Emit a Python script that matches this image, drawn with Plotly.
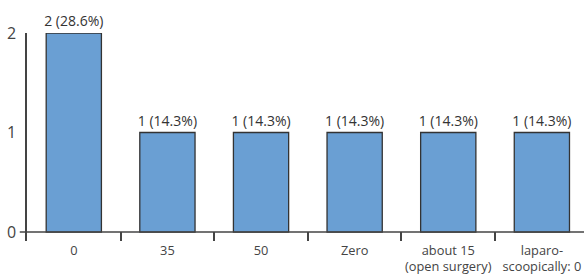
import plotly.graph_objects as go

categories = ["0", "35", "50", "Zero", "about 15<br>(open surgery)", "laparo-<br>scoopically: 0"]
counts = [2, 1, 1, 1, 1, 1]
percents = [28.6, 14.3, 14.3, 14.3, 14.3, 14.3]
labels = [f"{c} ({p}%)" for c, p in zip(counts, percents)]

fig = go.Figure(go.Bar(
    x=categories, y=counts, text=labels, textposition="outside",
    cliponaxis=False, constraintext="none",
    marker=dict(color="#6a9fd3", line=dict(color="#333333", width=1.3)),
    textfont=dict(size=14, color="#333333", family="Open Sans"),
))

fig.update_layout(
    width=584, height=275,
    margin=dict(l=27, r=0, t=33, b=34),
    plot_bgcolor="white", paper_bgcolor="white",
    bargap=0.41, showlegend=False,
    font=dict(family="Open Sans", color="#444444"),
)
fig.update_xaxes(
    type="category", range=[-0.5, 5.45], tickson="boundaries",
    ticks="inside", ticklen=9, tickwidth=1.5, tickcolor="#444444",
    showline=False, showgrid=False, tickangle=0, automargin=False,
    tickfont=dict(size=12.8, color="#444444"),
)
fig.update_yaxes(
    range=[-0.09, 2], tickvals=[0, 1, 2], showgrid=False, zeroline=False,
    showline=True, linecolor="#444444", linewidth=1.5, ticks="", automargin=False,
    tickfont=dict(size=16, color="#444444"), ticklabelstandoff=6,
)
fig.add_shape(type="line", xref="paper", yref="y", x0=-0.013, x1=1, y0=0, y1=0,
              line=dict(color="#444444", width=1.5))

fig.write_html(
    "out.html",
    config={"displayModeBar": False},
    post_script="document.body.style.margin='0';document.body.style.overflow='hidden';",
)
